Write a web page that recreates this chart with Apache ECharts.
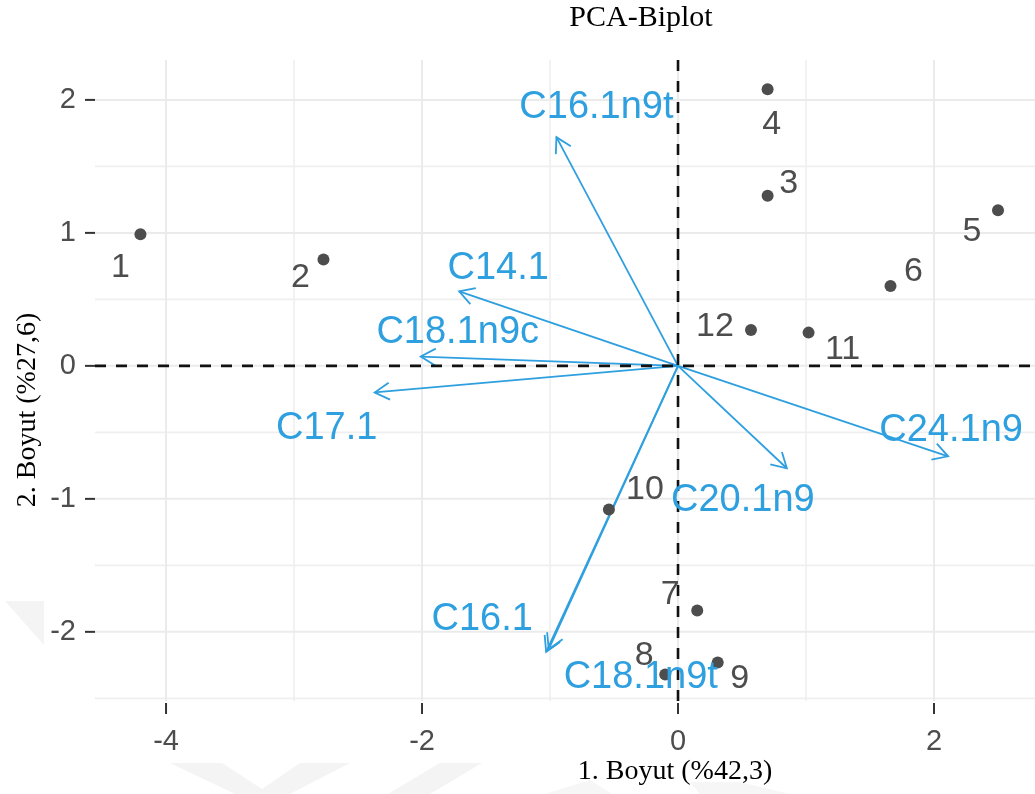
<!DOCTYPE html>
<html>
<head>
<meta charset="utf-8">
<title>PCA-Biplot</title>
<script src="https://cdn.jsdelivr.net/npm/echarts@6/dist/echarts.min.js"></script>
<style>
  html, body { margin: 0; padding: 0; background: #ffffff; }
  #chart { width: 1035px; height: 794px; }
</style>
</head>
<body>
<div id="chart"></div>
<script>
// Individuals (scores on dimensions 1 and 2)
const obsNames = ['1', '2', '3', '4', '5', '6', '7', '8', '9', '10', '11', '12'];
const obsX = [-4.20, -2.77, 0.70, 0.70, 2.50, 1.66, 0.15, -0.10, 0.31, -0.54, 1.02, 0.57];
const obsY = [0.99, 0.80, 1.28, 2.08, 1.17, 0.60, -1.84, -2.32, -2.23, -1.08, 0.25, 0.27];

// Variables (loadings, drawn as arrows from the origin)
const varNames = ['C16.1n9t', 'C14.1', 'C18.1n9c', 'C17.1', 'C24.1n9', 'C20.1n9', 'C16.1', 'C18.1n9t'];
const varX = [-0.95, -1.71, -2.01, -2.37, 2.11, 0.85, -1.03, -1.01];
const varY = [1.72, 0.56, 0.07, -0.20, -0.68, -0.77, -2.15, -2.13];

// Axis ticks and grid
const xTicks = [-4, -2, 0, 2];
const xMinor = [-3, -1, 1];
const yTicks = [-2, -1, 0, 1, 2];
const yMinor = [-2.5, -1.5, -0.5, 0.5, 1.5];

// Text titles
const chartTitle = 'PCA-Biplot';
const xTitle = '1. Boyut (%42,3)';
const yTitle = '2. Boyut (%27,6)';

// Label nudges in pixels (label centre relative to its mark)
const obsLabelNudge = [[-20, 33], [-23, 18], [21, -12], [4, 35], [-26, 21], [23, -14],
                       [-27, -16], [-21, -19], [22, 16], [36, -20], [34, 17], [-36, -3]];
const varLabelNudge = [[40, -30], [39, -23], [37, -24], [-48, 36], [3, -26], [-44, 32], [-64, -32], [92, 28]];

const BLUE = '#2E9FDF';
const POINT = '#4D4D4D';
const TEXT_GREY = '#4D4D4D';
const SANS = '"Liberation Sans", Arial, sans-serif';
const SERIF = '"Liberation Serif", "Times New Roman", serif';

const chart = echarts.init(document.getElementById('chart'), null, { renderer: 'canvas' });

// Panel background: grid lines, axis ticks and tick labels
function renderFrame(params, api) {
  const cs = params.coordSys;
  const L = cs.x, R = cs.x + cs.width, T = cs.y, B = cs.y + cs.height;
  const kids = [];
  const seg = (x1, y1, x2, y2, stroke, w) => ({
    type: 'line', shape: { x1, y1, x2, y2 }, style: { stroke, lineWidth: w }, silent: true
  });
  xMinor.forEach(v => { const p = api.coord([v, 0])[0]; kids.push(seg(p, T, p, B, '#EFEFEF', 1.6)); });
  yMinor.forEach(v => { const p = api.coord([0, v])[1]; kids.push(seg(L, p, R, p, '#EFEFEF', 1.6)); });
  xTicks.forEach(v => {
    const p = api.coord([v, 0])[0];
    kids.push(seg(p, T, p, B, '#EBEBEB', 2));
    kids.push(seg(p, B + 2, p, B + 13, '#333333', 2));
    kids.push({ type: 'text', x: p, y: B + 41, silent: true,
      style: { text: String(v), fill: TEXT_GREY, font: '29px ' + SANS, align: 'center', verticalAlign: 'middle' } });
  });
  yTicks.forEach(v => {
    const p = api.coord([0, v])[1];
    kids.push(seg(L, p, R, p, '#EBEBEB', 2));
    kids.push(seg(L - 10, p, L, p, '#333333', 2));
    kids.push({ type: 'text', x: L - 19, y: p, silent: true,
      style: { text: String(v), fill: TEXT_GREY, font: '29px ' + SANS, align: 'right', verticalAlign: 'middle' } });
  });
  return { type: 'group', children: kids };
}

// Dashed reference lines through the origin
function renderZeroLines(params, api) {
  const cs = params.coordSys;
  const o = api.coord([0, 0]);
  const st = { stroke: '#111111', lineWidth: 2.6, lineDash: [11, 10] };
  return { type: 'group', children: [
    { type: 'line', shape: { x1: cs.x, y1: o[1], x2: cs.x + cs.width, y2: o[1] }, style: st, silent: true },
    { type: 'line', shape: { x1: o[0], y1: cs.y, x2: o[0], y2: cs.y + cs.height }, style: st, silent: true }
  ] };
}

// Variable arrows with open arrow heads
function renderArrow(params, api) {
  const o = api.coord([0, 0]);
  const t = api.coord([api.value(0), api.value(1)]);
  const ang = Math.atan2(t[1] - o[1], t[0] - o[0]);
  const len = 17, half = Math.PI / 6;
  const b1 = [t[0] - len * Math.cos(ang - half), t[1] - len * Math.sin(ang - half)];
  const b2 = [t[0] - len * Math.cos(ang + half), t[1] - len * Math.sin(ang + half)];
  const st = { stroke: BLUE, lineWidth: 1.8, fill: null };
  return { type: 'group', children: [
    { type: 'line', shape: { x1: o[0], y1: o[1], x2: t[0], y2: t[1] }, style: st },
    { type: 'polyline', shape: { points: [b1, t, b2] }, style: st }
  ] };
}

// Variable names placed near the arrow tips
function renderVarLabel(params, api) {
  const i = params.dataIndex;
  const t = api.coord([api.value(0), api.value(1)]);
  const n = varLabelNudge[i];
  return { type: 'text', x: t[0] + n[0], y: t[1] + n[1],
    style: { text: varNames[i], fill: BLUE, font: '38px ' + SANS, align: 'center', verticalAlign: 'middle' } };
}

const varData = varX.map((x, i) => [x, varY[i]]);
const obsData = obsX.map((x, i) => ({
  value: [x, obsY[i]],
  name: obsNames[i],
  label: { offset: obsLabelNudge[i] }
}));

const WM = '#F4F4F4';
const option = {
  backgroundColor: '#ffffff',
  animation: false,
  grid: { left: 95, right: 0, top: 60, bottom: 93, containLabel: false },
  xAxis: { type: 'value', min: -4.555, max: 2.789, show: false },
  yAxis: { type: 'value', min: -2.52, max: 2.30, show: false },
  graphic: [
    // faint watermark shapes in the margins
    { type: 'polygon', z: -10, silent: true, shape: { points: [[5, 601], [44, 601], [44, 645]] }, style: { fill: WM } },
    { type: 'polygon', z: -10, silent: true, shape: { points: [[170, 763], [222, 763], [262, 789], [300, 763], [350, 763], [290, 794], [235, 794]] }, style: { fill: WM } },
    { type: 'polygon', z: -10, silent: true, shape: { points: [[440, 763], [482, 763], [430, 794], [388, 794]] }, style: { fill: WM } },
    { type: 'polygon', z: -10, silent: true, shape: { points: [[545, 794], [590, 780], [612, 794]] }, style: { fill: '#F6F6F6' } },
    { type: 'polygon', z: -10, silent: true, shape: { points: [[690, 782], [740, 782], [790, 794], [700, 794]] }, style: { fill: '#F6F6F6' } },
    { type: 'text', x: 641, y: 18, silent: true,
      style: { text: chartTitle, fill: '#000000', font: '30px ' + SERIF, align: 'center', verticalAlign: 'middle' } },
    { type: 'text', x: 675, y: 772, silent: true,
      style: { text: xTitle, fill: '#000000', font: '28px ' + SERIF, align: 'center', verticalAlign: 'middle' } },
    { type: 'text', x: 28, y: 410, rotation: Math.PI / 2, silent: true,
      style: { text: yTitle, fill: '#000000', font: '28px ' + SERIF, align: 'center', verticalAlign: 'middle' } }
  ],
  series: [
    { type: 'custom', name: 'frame', z: 1, silent: true, clip: false, data: [[0, 0]], renderItem: renderFrame },
    { type: 'custom', name: 'arrows', z: 2, silent: true, data: varData, renderItem: renderArrow },
    { type: 'custom', name: 'zero', z: 3, silent: true, data: [[0, 0]], renderItem: renderZeroLines },
    {
      type: 'scatter', name: 'individuals', z: 4, silent: true,
      symbol: 'circle', symbolSize: 12,
      itemStyle: { color: POINT, opacity: 1 },
      label: {
        show: true, position: 'inside', formatter: '{b}',
        color: TEXT_GREY, fontSize: 34, fontFamily: SANS,
        align: 'center', verticalAlign: 'middle'
      },
      data: obsData
    },
    { type: 'custom', name: 'variables', z: 5, silent: true, clip: false, data: varData, renderItem: renderVarLabel }
  ]
};

chart.setOption(option);
</script>
</body>
</html>
